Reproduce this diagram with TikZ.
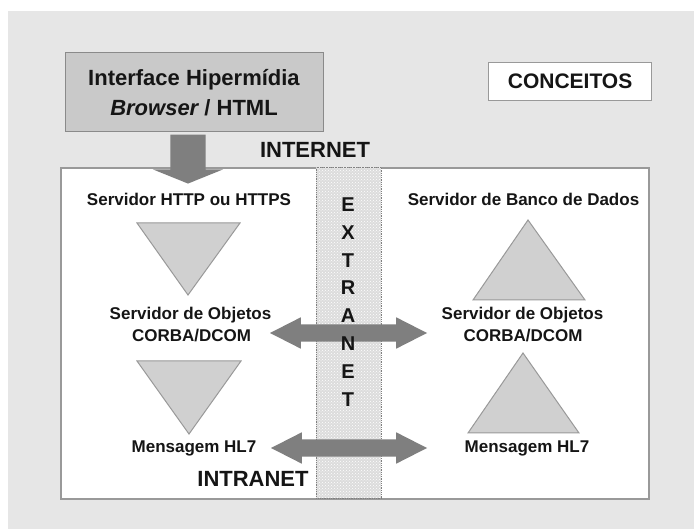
\documentclass[tikz,border=0pt]{standalone}
\usepackage{fontspec}
\setmainfont{Liberation Sans}
\usetikzlibrary{shapes.arrows,patterns}
\definecolor{bggray}{HTML}{E6E6E6}
\definecolor{boxline}{HTML}{999999}
\definecolor{ifill}{HTML}{C9C9C9}
\definecolor{iline}{HTML}{8A8A8A}
\definecolor{trifill}{HTML}{D0D0D0}
\definecolor{arrfill}{HTML}{7F7F7F}
\definecolor{extfill}{HTML}{DCDCDC}
\definecolor{txt}{HTML}{151515}
\newcommand\smallf{\fontsize{17}{21}\selectfont\bfseries}
\newcommand\bigf{\fontsize{22}{28}\selectfont\bfseries}
\tikzset{
  lbl/.style={text=txt, inner sep=0pt, align=center},
  tri/.style={fill=trifill, draw=boxline, line width=1pt, line join=miter},
  dblarrow/.style={double arrow, fill=arrfill, draw=none, inner xsep=0pt, inner ysep=8.5pt,
    double arrow head extend=7pt, double arrow tip angle=54},
}
\begin{document}
\begin{tikzpicture}[x=1pt,y=-1pt]
\useasboundingbox (0,0) rectangle (694,529);
\fill[white] (0,0) rectangle (694,529);
\fill[bggray] (8,11) rectangle (694,529);
% main network box
\node[draw=boxline, line width=2pt, fill=white, anchor=north west,
      minimum width=588pt, minimum height=331pt, inner sep=0pt] (net) at (60,167) {};
% extranet column
\node[fill=extfill, anchor=north west, minimum width=65pt, minimum height=330pt, inner sep=0pt] (extbg) at (316,167.5) {};
\node[pattern=crosshatch dots, pattern color=white, draw=gray, densely dotted, line width=0.8pt,
      anchor=north west, minimum width=65pt, minimum height=330pt, inner sep=0pt] (ext) at (316,167.5) {};
% interface box
\node[fill=ifill, draw=iline, line width=1.2pt, anchor=north west,
      minimum width=258pt, minimum height=79pt, inner sep=0pt] (iface) at (65,52) {};
\node[lbl, font=\bigf] (if1) at (194,80) {Interface Hipermídia};
\node[lbl, font=\bigf] (if2) at (194,108) {\itshape Browser\upshape{} / HTML};
% down arrow
\node[single arrow, rotate=-90, fill=arrfill, draw=none, inner xsep=0pt, inner ysep=17.5pt,
      single arrow head extend=17.5pt, single arrow tip angle=136,
      minimum height=49pt] (down) at (188,155.5) {};
% conceitos
\node[fill=white, draw=boxline, line width=1.2pt, anchor=north west,
      minimum width=163pt, minimum height=38pt, inner sep=0pt] (conc) at (488,62) {};
\node[lbl, font=\fontsize{21}{24}\selectfont\bfseries] (conct) at (conc.center) {CONCEITOS};
% labels
\node[lbl, font=\fontsize{22}{24}\selectfont\bfseries] (internet) at (315,150) {INTERNET};
\node[lbl, font=\fontsize{22}{24}\selectfont\bfseries] (intranet) at (253,479) {INTRANET};
% left column
\node[lbl, font=\smallf] (http) at (189,199) {Servidor HTTP ou HTTPS};
\draw[tri] (137,223) -- (240,223) -- (188,295) -- cycle;
\node[lbl, font=\smallf] (objL1) at (190.5,315) {Servidor de Objetos};
\node[lbl, font=\smallf] (objL2) at (191.5,336) {CORBA/DCOM};
\draw[tri] (137,361) -- (241,361) -- (189,434) -- cycle;
\node[lbl, font=\smallf] (hl7L) at (194,448) {Mensagem HL7};
% right column
\node[lbl, font=\smallf] (bd) at (523.5,199) {Servidor de Banco de Dados};
\draw[tri] (473,300) -- (585,300) -- (528,220) -- cycle;
\node[lbl, font=\smallf] (objR1) at (522.5,315) {Servidor de Objetos};
\node[lbl, font=\smallf] (objR2) at (523,336) {CORBA/DCOM};
\draw[tri] (468,433) -- (579,433) -- (523,353) -- cycle;
\node[lbl, font=\smallf] (hl7R) at (527,448) {Mensagem HL7};
% double arrows
\node[dblarrow, minimum height=157pt] (a1) at (348.5,333) {};
\node[dblarrow, minimum height=156pt] (a2) at (349,448) {};
% extranet letters
\node[lbl, font=\fontsize{20}{27.9}\selectfont\bfseries] (extt) at (348,302) {E\\X\\T\\R\\A\\N\\E\\T};
\end{tikzpicture}
\end{document}
